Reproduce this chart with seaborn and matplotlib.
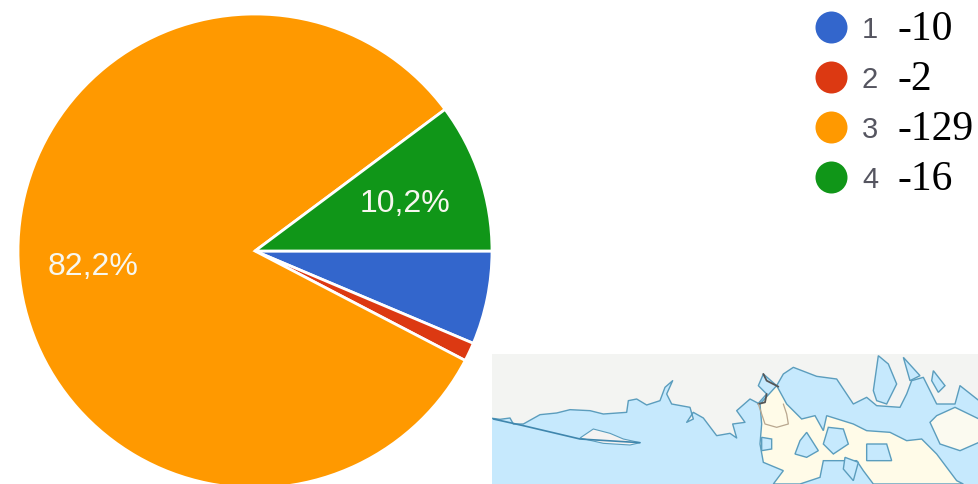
import numpy as np
import seaborn as sns
import matplotlib.pyplot as plt
from matplotlib.patches import Polygon

# pie values
categories = ['1', '2', '3', '4']
counts = [10, 2, 129, 16]
notes = ['-10', '-2', '-129', '-16']
colors = ['#3366cc', '#dc3912', '#ff9900', '#109618']

# rough outline of the map crop, in zoomed-crop units
north_coast = [(0, 222), (30, 226), (60, 222), (70, 240), (100, 240), (150, 212), (200, 207), (240, 197),
               (300, 200), (340, 210), (410, 205), (415, 170), (440, 165), (470, 183), (510, 170), (525, 130),
               (548, 110), (530, 150), (545, 180), (600, 190), (610, 225), (590, 235), (610, 205), (640, 222),
               (680, 275), (720, 268), (740, 282), (728, 240), (765, 235), (740, 200), (780, 165), (805, 178),
               (830, 150), (805, 125), (820, 90), (860, 125), (880, 90), (910, 70), (980, 97), (1040, 105),
               (1090, 180), (1130, 160), (1160, 185), (1230, 190), (1250, 150), (1265, 110), (1300, 100),
               (1340, 180), (1395, 180), (1410, 125), (1467, 170)]
land = [(810, 180), (860, 125), (890, 180), (935, 225), (975, 215), (1000, 260), (1010, 215), (1090, 240),
        (1130, 260), (1200, 265), (1250, 290), (1295, 285), (1340, 330), (1400, 410), (1420, 420), (1150, 420),
        (1120, 380), (1100, 350), (1060, 350), (1000, 350), (990, 400), (930, 420), (850, 420), (880, 380),
        (820, 355), (810, 300), (815, 240)]
east_land = [(1467, 225), (1395, 190), (1340, 215), (1320, 235), (1350, 300), (1410, 320), (1467, 295)]
spit = [(270, 282), (310, 255), (360, 268), (400, 285), (450, 296), (420, 303), (340, 298)]
lakes = [[(1150, 140), (1165, 35), (1195, 60), (1220, 120), (1190, 180), (1160, 170)],
         [(1240, 40), (1290, 95), (1260, 110)],
         [(1330, 80), (1365, 125), (1345, 145), (1325, 110)],
         [(930, 290), (950, 265), (985, 320), (950, 340), (915, 330)],
         [(815, 280), (845, 285), (845, 315), (815, 320)],
         [(1015, 250), (1060, 255), (1075, 300), (1030, 330), (1000, 300)],
         [(1130, 300), (1190, 300), (1205, 350), (1130, 350)],
         [(1065, 340), (1105, 355), (1090, 410), (1060, 375)]]

sns.set_theme(style='white')
plt.rcParams['font.family'] = ['Liberation Sans', 'DejaVu Sans']

W, H = 979, 485
fig = plt.figure(figsize=(W / 100, H / 100), dpi=100)

# pie
ax = fig.add_axes([15 / W, (H - 492) / H, 480 / W, 480 / H])
wedges, texts, autotexts = ax.pie(
    counts, colors=sns.color_palette(colors), startangle=0, counterclock=False, radius=1,
    wedgeprops={'edgecolor': 'white', 'linewidth': 2},
    autopct=lambda p: f'{p:.1f}%'.replace('.', ',') if p > 10 else '',
    pctdistance=0.675, textprops={'fontsize': 23, 'color': '#f7f7ef'})
for at in autotexts:
    x, y = at.get_position()
    at.set_position((x - 2 / 237, y - 2 / 237))
ax.set_xlim(-240 / 237, 240 / 237)
ax.set_ylim(-240 / 237, 240 / 237)
ax.set_aspect('equal')

# legend drawn in pixel space of the whole figure
lg = fig.add_axes([0, 0, 1, 1], facecolor='none')
lg.set_xlim(0, W)
lg.set_ylim(H, 0)
lg.axis('off')
for i, (c, n) in enumerate(zip(categories, notes)):
    y = 28 + 50 * i
    lg.scatter([831], [y], s=(32 * 0.72) ** 2, color=colors[i], linewidths=0)
    lg.text(870, y + 2, c, fontsize=21, color='#555560', ha='center', va='center')
    lg.text(898, y + 2, n, fontsize=30, color='black', ha='left', va='center', family='Liberation Serif')

# map crop in the lower right corner
mp = fig.add_axes([492 / W, 0, (W - 492) / W, (H - 355) / H], facecolor='#c6e9fd')
mp.set_xlim(6, 1467)
mp.set_ylim(420, 30)
mp.axis('on')
mp.set_xticks([])
mp.set_yticks([])
for s in mp.spines.values():
    s.set_visible(False)
coast = '#5b9dbd'
grey = north_coast + [(1467, 30), (0, 30)]
mp.add_patch(Polygon(grey, closed=True, facecolor='#f3f4f2', edgecolor='none'))
mp.plot(*zip(*north_coast), color=coast, lw=1)
mp.add_patch(Polygon(land, closed=True, facecolor='#fffbe8', edgecolor=coast, lw=1))
mp.add_patch(Polygon(east_land, closed=True, facecolor='#fbfaf0', edgecolor=coast, lw=1))
mp.add_patch(Polygon(spit, closed=True, facecolor='#f5f3f2', edgecolor=coast, lw=0.8))
for lake in lakes:
    mp.add_patch(Polygon(lake, closed=True, facecolor='#c6e9fd', edgecolor=coast, lw=1))
mp.plot([10, 100, 270, 450], [225, 245, 285, 296], color='#3f86ad', lw=1.2)
# the dark border stretch and the thin brown one
mp.plot([820, 830, 865], [90, 110, 128], color='#555555', lw=1.3)
mp.plot([830, 825, 805], [150, 175, 180], color='#555555', lw=1.3)
mp.plot([805, 825, 860, 895, 890, 880], [180, 240, 250, 240, 210, 180], color='#b9a78f', lw=0.9)

fig.savefig('out.png', dpi=100)
